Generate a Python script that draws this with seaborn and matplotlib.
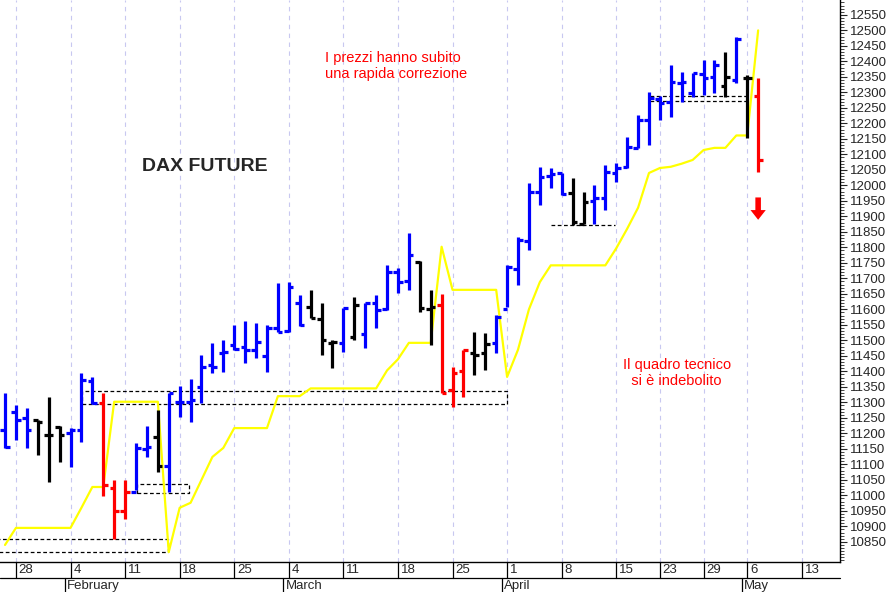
import matplotlib
matplotlib.use("Agg")
import matplotlib.pyplot as plt
import seaborn as sns
import numpy as np
import pandas as pd

sns.set_style("white")
plt.rcParams['font.family'] = ['Liberation Sans', 'DejaVu Sans']

opens = [11211,11269,11250,11243,11195,11220,11200,11210,11370,11298,11024,10950,11011,11150,11188,11095,
         11300,11300,11350,11420,11460,11485,11480,11470,11450,11540,11530,11620,11608,11570,11490,11490,
         11511,11520,11620,11600,11720,11690,11753,11600,11614,11340,11400,11460,11460,11490,11600,11730,
         11820,11980,12030,12040,11975,11876,11950,11960,12040,12060,12120,12210,12280,12270,12330,12298,
         12360,12350,12321,12340,12347,12289]
highs = [11330,11292,11282,11243,11318,11224,11217,11395,11382,11330,11050,11050,11169,11224,11276,11330,
         11353,11376,11453,11492,11501,11550,11563,11556,11550,11685,11689,11647,11663,11621,11502,11605,
         11640,11621,11647,11743,11734,11847,11756,11663,11650,11414,11469,11527,11524,11582,11743,11834,
         12008,12060,12056,12040,12024,11979,12002,12066,12072,12156,12227,12302,12289,12388,12366,12363,
         12405,12405,12431,12479,12356,12347]
lows = [11153,11179,11153,11130,11043,11108,11092,11172,11295,10998,10859,10924,11017,11124,11076,11011,
        11253,11237,11298,11395,11398,11469,11427,11443,11398,11527,11527,11547,11573,11453,11411,11463,
        11502,11476,11540,11598,11653,11663,11592,11485,11331,11285,11318,11389,11405,11460,11608,11679,
        11792,11937,11992,11969,11873,11876,11876,11921,12011,12056,12121,12131,12211,12221,12269,12285,
        12292,12298,12285,12331,12153,12043]
closes = [11156,11243,11211,11237,11195,11195,11211,11372,11298,11034,10950,11011,11153,11156,11095,11330,
          11301,11308,11414,11414,11463,11472,11469,11495,11540,11527,11672,11550,11573,11502,11495,11605,
          11614,11621,11598,11721,11689,11776,11605,11608,11331,11395,11469,11453,11489,11576,11737,11824,
          11979,12027,12037,11973,11882,11947,11960,12043,12056,12124,12211,12282,12266,12334,12334,12363,
          12347,12389,12350,12472,12347,12082]
colors = list("BBB" "KKK" "BBB" "RRR" "BB" "K" "BBBBBBBBBBBBB" "KKK" "B" "K" "BBBBB" "KK" "RRR" "KK"
              "BBBBBBB" "KK" "BBBBBBBBBBBB" "K" "B" "K" "R")

stop_line = [10840,10895,10895,10895,10895,10895,10895,10960,11027,11027,11302,11302,11302,11302,11302,10817,
             10960,10976,11050,11124,11153,11217,11217,11217,11217,11320,11320,11320,11345,11345,11345,11345,
             11345,11345,11345,11403,11439,11492,11492,11492,11802,11663,11663,11663,11663,11663,11382,11470,
             11600,11688,11742,11742,11742,11742,11742,11742,11797,11860,11928,12040,12056,12060,12070,12082,
             12114,12121,12121,12161,12161,12500]

week_idx = [1,6,11,16,21,26,31,36,41,46,51,56,60,64,68,73]
week_lbl = ["28","4","11","18","25","4","11","18","25","1","8","15","23","29","6","13"]
month_idx = [6,26,46,68]
month_lbl = ["February","March","April","May"]

cmap = {"B":"#0000FF","K":"#000000","R":"#FF0000"}
n = len(closes)
idx = np.arange(n)
df = pd.DataFrame({"i":idx,"stop":stop_line})

fig = plt.figure(figsize=(8.89,5.92), dpi=100)
ax = fig.add_axes([0.0, 30/592, 840/889, 562/592])
ax.set_xlim(-0.46, 76.5)
ax.set_ylim(10785, 12598)

for w in week_idx:
    ax.axvline(w, color="#C8C8F0", lw=0.8, ls=(0,(4,4)), zorder=0)

sns.lineplot(data=df, x="i", y="stop", color="#FFFF00", lw=1.6, ax=ax, zorder=2)

cols = [cmap[c] for c in colors]
ax.vlines(idx, lows, highs, colors=cols, lw=2.3, zorder=3)
ax.hlines(opens, idx-0.42, idx, colors=cols, lw=2.3, zorder=3)
ax.hlines(closes, idx, idx+0.42, colors=cols, lw=2.3, zorder=3)

dk = dict(color="black", lw=0.9, ls=(0,(3,2)), zorder=1)
def box(x0, x1, y0, y1):
    ax.plot([x0,x1,x1,x0,x0],[y0,y0,y1,y1,y0], **dk)
box(-0.6, 14.9, 10817, 10860)
box(7.06, 46.0, 11295, 11337)
box(12.1, 16.9, 11008, 11037)
ax.plot([50.0, 55.9],[11872,11872], **dk)
ax.plot([59.1, 68.0],[12289,12289], **dk)
ax.plot([59.1, 68.0],[12273,12273], **dk)

ax.text(18.3, 12062, "DAX FUTURE", fontsize=14, fontweight="bold", ha="center", va="center")
ax.text(29.3, 12385, "I prezzi hanno subito\nuna rapida correzione", color="#FF0000", fontsize=10.5, va="center", linespacing=1.15)
ax.text(56.6, 11395, "Il quadro tecnico\n  si è indebolito", color="#FF0000", fontsize=10.5, va="center", linespacing=1.15)
ax.annotate("", xy=(69, 11880), xytext=(69, 11970),
            arrowprops=dict(arrowstyle="simple,head_width=1.1,head_length=0.7,tail_width=0.4", color="#FF0000", lw=0))

ax.set_xticks([]); ax.set_xlabel(""); ax.set_ylabel("")
ax.yaxis.tick_right()
ax.set_yticks(np.arange(10850, 12551, 50))
ax.set_yticks(np.arange(10790, 12600, 10), minor=True)
ax.tick_params(axis="y", which="major", length=5, labelsize=9.5, pad=2, right=True)
ax.tick_params(axis="y", which="minor", length=3, right=True)
for s in ax.spines.values():
    s.set_color("black"); s.set_linewidth(1.0)
ax.spines["left"].set_visible(False)
ax.spines["top"].set_visible(False)

tr = ax.get_xaxis_transform()
row = 16/562
for w, l in zip(week_idx, week_lbl):
    ax.plot([w, w], [0, -row], color="black", lw=0.9, transform=tr, clip_on=False)
    ax.text(w + 0.25, -row/2, l, fontsize=9.5, ha="left", va="center", transform=tr)
ax.plot([-0.46, 76.5], [-row, -row], color="black", lw=0.9, transform=tr, clip_on=False)
for m, l in zip(month_idx, month_lbl):
    ax.plot([m-0.5, m-0.5], [-row, -2*row], color="black", lw=0.9, transform=tr, clip_on=False)
    ax.text(m - 0.3, -1.5*row, l, fontsize=9.5, ha="left", va="center", transform=tr)
ax.plot([-0.46, 76.5], [-2*row+0.001, -2*row+0.001], color="black", lw=0.9, transform=tr, clip_on=False)

fig.savefig("out.png", dpi=100)
